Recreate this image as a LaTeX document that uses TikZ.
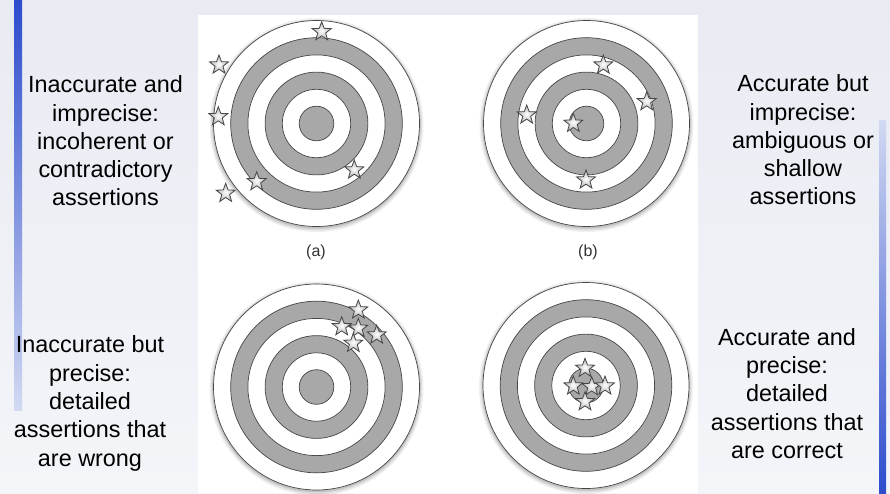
\documentclass[tikz,border=0pt]{standalone}
\usepackage{fontspec}
\setmainfont{Liberation Sans}
\usetikzlibrary{shapes.geometric}
\definecolor{bg}{RGB}{232,235,242}
\definecolor{bglight}{RGB}{243,245,249}
\definecolor{ring}{RGB}{168,168,168}
\definecolor{edge}{RGB}{70,70,70}
\definecolor{barblue}{RGB}{45,75,205}
\definecolor{barlight}{RGB}{210,217,242}
\tikzset{
  lbl/.style={align=center, font=\fontsize{23.4}{28.3}\selectfont, text=black, inner sep=0pt},
  capt/.style={font=\fontsize{16}{19}\selectfont, text=black!80, inner sep=0pt},
  shot/.style={star, star points=5, star point ratio=2.4, minimum size=20pt, inner sep=0pt,
    draw=edge, line width=0.8pt, inner color=white, outer color=black!30},
  ringline/.style={draw=edge, line width=0.7pt},
}
\newcommand\drawtarget[3]{%
  \node[circle, minimum size=206pt, inner sep=0pt] (#1) at (#2,#3) {};
  \fill[black, opacity=0.06] (#1.center) ++(0,1.5) circle[radius=107pt];
  \fill[black, opacity=0.08] (#1.center) ++(0,1.5) circle[radius=105.5pt];
  \fill[black, opacity=0.12] (#1.center) ++(0,1) circle[radius=104.2pt];
  \filldraw[fill=white, ringline] (#1.center) circle[radius=103pt];
  \filldraw[fill=ring, ringline] (#1.center) circle[radius=85.8pt];
  \filldraw[fill=white, ringline] (#1.center) circle[radius=68.6pt];
  \filldraw[fill=ring, ringline] (#1.center) circle[radius=51.4pt];
  \filldraw[fill=white, ringline] (#1.center) circle[radius=34.2pt];
  \filldraw[fill=ring, ringline] (#1.center) circle[radius=17.3pt];
}
\begin{document}
\begin{tikzpicture}[x=1pt, y=-1pt]
  \useasboundingbox (0,0) rectangle (890,493);
  % background
  \shade[top color=bg, bottom color=bglight] (0,0) rectangle (890,493);
  % side bars
  \shade[top color=barblue, bottom color=barlight] (14,0) rectangle (22,410);
  \shade[top color=barlight, bottom color=barblue] (879,120) rectangle (886,493);
  % panel
  \fill[white] (198,15) rectangle (698,493);
  % targets
  \drawtarget{ta}{316.5}{123.5}
  \drawtarget{tb}{586.5}{123.5}
  \drawtarget{tc}{316.5}{387}
  \drawtarget{td}{586}{385.5}
  % captions
  \node[capt] (capa) at (316,252) {(a)};
  \node[capt] (capb) at (588,252) {(b)};
  % stars (a)
  \node[shot] (a1) at (321.7,31.7) {};
  \node[shot] (a2) at (219,65) {};
  \node[shot] (a3) at (218.3,116.7) {};
  \node[shot] (a4) at (225.7,193.3) {};
  \node[shot] (a5) at (256.7,181.7) {};
  \node[shot] (a6) at (354.3,170) {};
  % stars (b)
  \node[shot] (b1) at (603.3,65) {};
  \node[shot] (b2) at (646.7,101.7) {};
  \node[shot] (b3) at (526.7,115) {};
  \node[shot] (b4) at (573.3,123.3) {};
  \node[shot] (b5) at (586,180) {};
  % stars (c)
  \node[shot] (c1) at (358.3,310) {};
  \node[shot] (c2) at (341.7,326.7) {};
  \node[shot] (c3) at (358.3,328.3) {};
  \node[shot] (c4) at (376.7,335) {};
  \node[shot] (c5) at (353.3,343.3) {};
  % stars (d)
  \node[shot] (d1) at (585,368.3) {};
  \node[shot] (d2) at (573.3,386) {};
  \node[shot] (d3) at (591.7,386.7) {};
  \node[shot] (d4) at (605,386) {};
  \node[shot] (d5) at (585,401.7) {};
  % labels
  \node[lbl] (l1) at (105.5,141) {Inaccurate and\\imprecise:\\incoherent or\\contradictory\\assertions};
  \node[lbl] (l2) at (90,403.5) {Inaccurate but\\precise:\\detailed\\assertions that\\are wrong};
  \node[lbl] (r1) at (803,140) {Accurate but\\imprecise:\\ambiguous or\\shallow\\assertions};
  \node[lbl] (r2) at (787,393.5) {Accurate and\\precise:\\detailed\\assertions that\\are correct};
\end{tikzpicture}
\end{document}
